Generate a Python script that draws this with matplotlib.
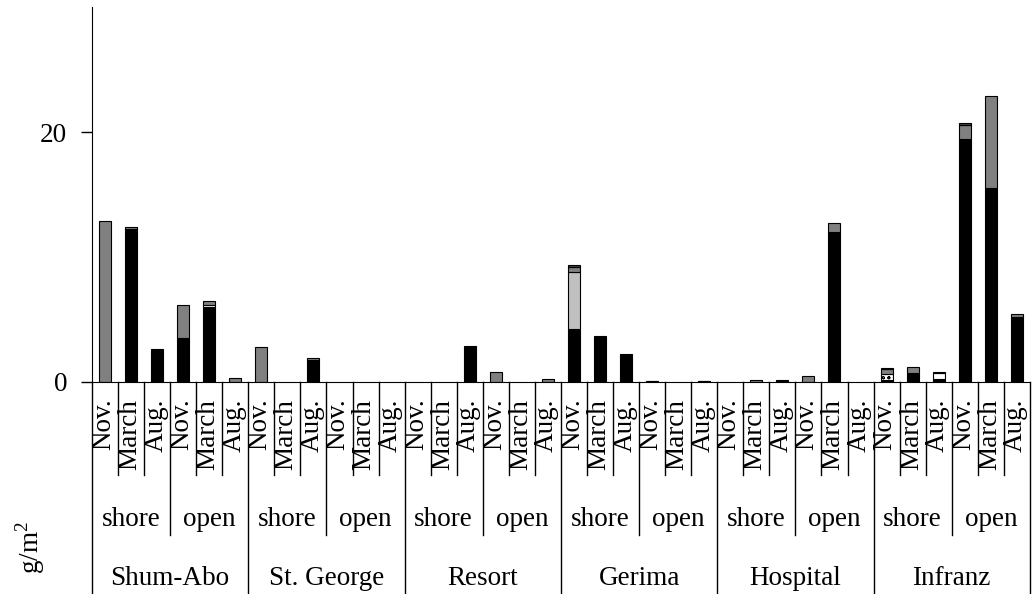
import matplotlib
matplotlib.use("Agg")
import matplotlib.pyplot as plt
import matplotlib.transforms as mtransforms
import numpy as np

plt.rcParams['font.family'] = ['Liberation Serif', 'DejaVu Serif']
plt.rcParams['mathtext.fontset'] = 'custom'
plt.rcParams['mathtext.rm'] = 'Liberation Serif'
plt.rcParams['hatch.linewidth'] = 0.6

sites = ['Shum-Abo', 'St. George', 'Resort', 'Gerima', 'Hospital', 'Infranz']
zones = ['shore', 'open']
months = ['Nov.', 'March', 'Aug.']

# stacked components, one value per bar (site x zone x month), g/m2
black = [0, 12.25, 2.62, 3.55, 6.0, 0,
         0, 0, 1.75, 0, 0, 0,
         0, 0, 2.85, 0, 0, 0,
         4.23, 3.67, 2.22, 0.04, 0, 0.04,
         0, 0, 0.1, 0, 12.0, 0,
         0.15, 0.75, 0.25, 19.45, 15.5, 5.2]
hatched = [0, 0, 0, 0, 0, 0,
           0, 0, 0, 0, 0, 0,
           0, 0, 0, 0, 0, 0,
           0, 0, 0, 0, 0, 0,
           0, 0, 0, 0, 0, 0,
           0.45, 0, 0, 0, 0, 0]
white = [0, 0, 0, 0, 0.13, 0,
         0, 0, 0, 0, 0, 0,
         0, 0, 0, 0, 0, 0,
         0, 0, 0, 0, 0, 0,
         0, 0, 0, 0, 0, 0,
         0, 0, 0.5, 0, 0, 0]
lightgray = [0, 0, 0, 0, 0, 0,
             0, 0, 0, 0, 0, 0,
             0, 0, 0, 0, 0, 0,
             4.55, 0, 0, 0, 0, 0,
             0, 0, 0, 0, 0, 0,
             0, 0, 0, 0, 0, 0]
gray = [12.9, 0.15, 0, 2.6, 0.35, 0.35,
        2.8, 0, 0.15, 0, 0, 0,
        0, 0, 0, 0.78, 0, 0.27,
        0.45, 0, 0, 0.04, 0, 0.04,
        0, 0.18, 0.03, 0.5, 0.73, 0,
        0.45, 0.48, 0, 1.1, 7.4, 0.24]
darktop = [0, 0, 0, 0, 0, 0,
           0, 0, 0, 0, 0, 0,
           0, 0, 0, 0, 0, 0,
           0.12, 0, 0, 0, 0, 0,
           0, 0, 0, 0, 0, 0,
           0.1, 0, 0.08, 0.15, 0, 0]

fs = 19.5
fig = plt.figure(figsize=(10.34, 5.94), dpi=100)
ax = fig.add_axes([0.089, 0.357, 0.907, 0.631])

n = len(sites) * len(zones) * len(months)
x = np.arange(n)
layers = [
    (black, '#000000', None),
    (hatched, '#ffffff', 'ooo'),
    (white, '#ffffff', None),
    (lightgray, '#c0c0c0', None),
    (gray, '#808080', None),
    (darktop, '#404040', None),
]
bottom = np.zeros(n)
for vals, col, hatch in layers:
    v = np.array(vals, dtype=float)
    m = v > 0
    # only draw the pieces that exist, so empty bars leave no edge line
    ax.bar(x[m], v[m], width=0.46, bottom=bottom[m], color=col,
           edgecolor='black', linewidth=0.8, hatch=hatch)
    bottom += v

ax.set_xlim(-0.5, n - 0.5)
ax.set_ylim(0, 30)
ax.set_yticks([0, 20])
ax.tick_params(axis='y', direction='out', length=8, width=1, labelsize=fs, pad=10)
ax.set_xticks([])
for s in ['top', 'right']:
    ax.spines[s].set_visible(False)

trans = mtransforms.blended_transform_factory(ax.transData, ax.transAxes)

# separators under the axis
for k in range(n + 1):
    if k % 6 == 0:
        y1 = -0.565
    elif k % 3 == 0:
        y1 = -0.408
    else:
        y1 = -0.248
    ax.plot([k - 0.5, k - 0.5], [0, y1], color='black', lw=1,
            transform=trans, clip_on=False)

for i in range(n):
    ax.text(i - 0.05, -0.045, months[i % 3], rotation=90, ha='center', va='top',
            fontsize=fs, transform=trans)
for j in range(n // 3):
    ax.text(3 * j + 1, -0.368, zones[j % 2], ha='center', va='center',
            fontsize=fs, transform=trans)
for j, s in enumerate(sites):
    ax.text(6 * j + 2.5, -0.525, s, ha='center', va='center',
            fontsize=fs, transform=trans)

fig.text(0.029, 0.078, 'g/m$^2$', rotation=90, ha='center', va='center',
         fontsize=fs)

fig.savefig('out.png', dpi=100)
